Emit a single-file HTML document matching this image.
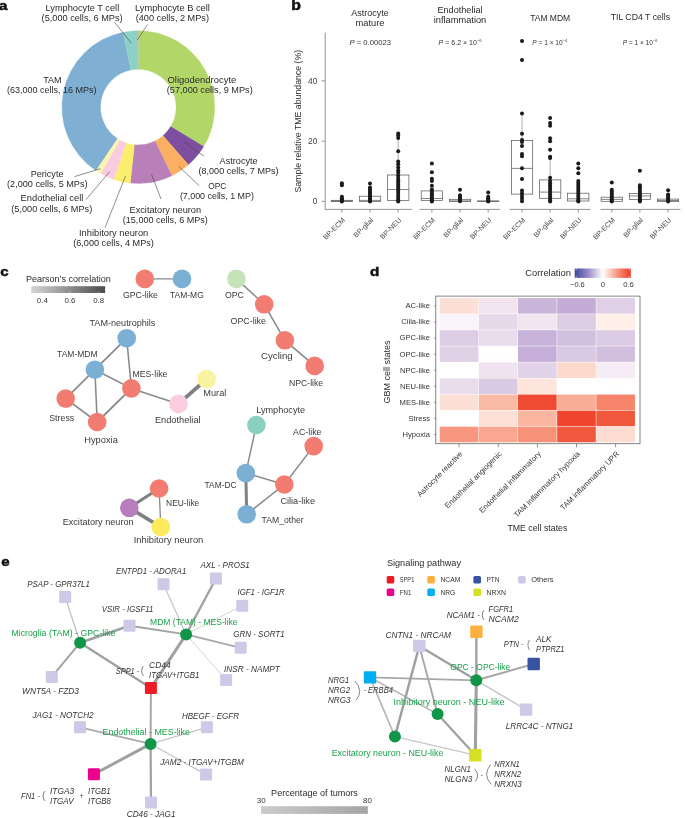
<!DOCTYPE html>
<html lang="en"><head><meta charset="utf-8"><title>Figure</title>
<style>
html,body{margin:0;padding:0;background:#fff;}
svg{display:block;font-family:'Liberation Sans', Arial, Helvetica, sans-serif;fill:#2a2a2a;}
</style></head><body>
<svg width="685" height="818" viewBox="0 0 685 818">
<rect width="685" height="818" fill="#fff"/>
<defs>
<linearGradient id="gPear" x1="0" x2="1" y1="0" y2="0"><stop offset="0" stop-color="#d4d4d4"/><stop offset="1" stop-color="#4c4c4e"/></linearGradient>
<linearGradient id="gCorr" x1="0" x2="1" y1="0" y2="0"><stop offset="0" stop-color="#3c46a2"/><stop offset="0.25" stop-color="#9d8fc9"/><stop offset="0.5" stop-color="#ffffff"/><stop offset="0.75" stop-color="#f69a84"/><stop offset="1" stop-color="#ee3a26"/></linearGradient>
<linearGradient id="gPct" x1="0" x2="1" y1="0" y2="0"><stop offset="0" stop-color="#cbcbcb"/><stop offset="1" stop-color="#a5a5a5"/></linearGradient>
</defs>

<text x="-0.9" y="10.2" font-size="13.2" fill="#111" font-weight="bold" textLength="8.4" lengthAdjust="spacingAndGlyphs" stroke="#111" stroke-width="0.5">a</text>
<text x="291.3" y="10.1" font-size="14.6" fill="#111" font-weight="bold" textLength="9.7" lengthAdjust="spacingAndGlyphs" stroke="#111" stroke-width="0.5">b</text>
<text x="0.3" y="276.2" font-size="13.2" fill="#111" font-weight="bold" textLength="8.4" lengthAdjust="spacingAndGlyphs" stroke="#111" stroke-width="0.5">c</text>
<text x="369.9" y="275.8" font-size="13.6" fill="#111" font-weight="bold" textLength="9.3" lengthAdjust="spacingAndGlyphs" stroke="#111" stroke-width="0.5">d</text>
<text x="1.3" y="565.8" font-size="13.2" fill="#111" font-weight="bold" textLength="8.4" lengthAdjust="spacingAndGlyphs" stroke="#111" stroke-width="0.5">e</text>
<g id="panel-a">
<path d="M138.30 30.70A76.4 76.4 0 0 1 203.72 146.56L170.67 126.62A37.8 37.8 0 0 0 138.30 69.30Z" fill="#b2d668" stroke="#b2d668" stroke-width="0.3"/>
<path d="M203.72 146.56A76.4 76.4 0 0 1 188.42 164.76L163.10 135.63A37.8 37.8 0 0 0 170.67 126.62Z" fill="#7e4f9e" stroke="#7e4f9e" stroke-width="0.3"/>
<path d="M188.42 164.76A76.4 76.4 0 0 1 171.91 175.71L154.93 141.05A37.8 37.8 0 0 0 163.10 135.63Z" fill="#fbb061" stroke="#fbb061" stroke-width="0.3"/>
<path d="M171.91 175.71A76.4 76.4 0 0 1 130.31 183.08L134.35 144.69A37.8 37.8 0 0 0 154.93 141.05Z" fill="#b97fb8" stroke="#b97fb8" stroke-width="0.3"/>
<path d="M130.31 183.08A76.4 76.4 0 0 1 113.68 179.42L126.12 142.88A37.8 37.8 0 0 0 134.35 144.69Z" fill="#fbee6f" stroke="#fbee6f" stroke-width="0.3"/>
<path d="M113.68 179.42A76.4 76.4 0 0 1 100.68 173.60L119.69 140.00A37.8 37.8 0 0 0 126.12 142.88Z" fill="#f9cce1" stroke="#f9cce1" stroke-width="0.3"/>
<path d="M100.68 173.60A76.4 76.4 0 0 1 95.80 170.59L117.27 138.51A37.8 37.8 0 0 0 119.69 140.00Z" fill="#faf4ad" stroke="#faf4ad" stroke-width="0.3"/>
<path d="M95.80 170.59A76.4 76.4 0 0 1 123.07 32.23L130.76 70.06A37.8 37.8 0 0 0 117.27 138.51Z" fill="#7fb0d3" stroke="#7fb0d3" stroke-width="0.3"/>
<path d="M123.07 32.23A76.4 76.4 0 0 1 137.10 30.71L137.71 69.30A37.8 37.8 0 0 0 130.76 70.06Z" fill="#8dd1c6" stroke="#8dd1c6" stroke-width="0.3"/>
<path d="M137.10 30.71A76.4 76.4 0 0 1 138.30 30.70L138.30 69.30A37.8 37.8 0 0 0 137.71 69.30Z" fill="#b9b9b9" stroke="#b9b9b9" stroke-width="0.3"/>
<line x1="114.5" y1="22.2" x2="131.3" y2="43.2" stroke="#444" stroke-width="0.6"/>
<line x1="147.6" y1="24.5" x2="137.4" y2="39.7" stroke="#444" stroke-width="0.6"/>
<line x1="74.3" y1="176.7" x2="100.4" y2="168.7" stroke="#444" stroke-width="0.6"/>
<line x1="86.0" y1="199.6" x2="109.8" y2="171.5" stroke="#444" stroke-width="0.6"/>
<line x1="105.1" y1="227.6" x2="125.4" y2="176.2" stroke="#444" stroke-width="0.6"/>
<line x1="184.0" y1="141.7" x2="203.9" y2="156.1" stroke="#444" stroke-width="0.6"/>
<line x1="178.8" y1="166.5" x2="199.4" y2="185.8" stroke="#444" stroke-width="0.6"/>
<line x1="151.5" y1="174.2" x2="161.0" y2="199.0" stroke="#444" stroke-width="0.6"/>
<text x="45.5" y="10.7" font-size="8.8" textLength="73.7" lengthAdjust="spacingAndGlyphs">Lymphocyte T cell</text>
<text x="41.6" y="20.8" font-size="8.8" textLength="81.0" lengthAdjust="spacingAndGlyphs">(5,000 cells, 6 MPs)</text>
<text x="135.0" y="10.7" font-size="8.8" textLength="74.8" lengthAdjust="spacingAndGlyphs">Lymphocyte B cell</text>
<text x="135.7" y="20.8" font-size="8.8" textLength="73.3" lengthAdjust="spacingAndGlyphs">(400 cells, 2 MPs)</text>
<text x="43.3" y="83.3" font-size="8.8" textLength="18.3" lengthAdjust="spacingAndGlyphs">TAM</text>
<text x="7.1" y="93.2" font-size="8.8" textLength="89.5" lengthAdjust="spacingAndGlyphs">(63,000 cells, 16 MPs)</text>
<text x="167.5" y="83.1" font-size="8.8" textLength="68.8" lengthAdjust="spacingAndGlyphs">Oligodendrocyte</text>
<text x="166.8" y="92.9" font-size="8.8" textLength="85.9" lengthAdjust="spacingAndGlyphs">(57,000 cells, 9 MPs)</text>
<text x="30.7" y="176.7" font-size="8.8" textLength="32.8" lengthAdjust="spacingAndGlyphs">Pericyte</text>
<text x="7.1" y="186.6" font-size="8.8" textLength="80.4" lengthAdjust="spacingAndGlyphs">(2,000 cells, 5 MPs)</text>
<text x="20.6" y="201.3" font-size="8.8" textLength="62.7" lengthAdjust="spacingAndGlyphs">Endothelial cell</text>
<text x="11.3" y="211.6" font-size="8.8" textLength="80.9" lengthAdjust="spacingAndGlyphs">(5,000 cells, 6 MPs)</text>
<text x="79.0" y="236.2" font-size="8.8" textLength="69.3" lengthAdjust="spacingAndGlyphs">Inhibitory neuron</text>
<text x="73.2" y="246.1" font-size="8.8" textLength="80.7" lengthAdjust="spacingAndGlyphs">(6,000 cells, 4 MPs)</text>
<text x="219.6" y="163.8" font-size="8.8" textLength="38.1" lengthAdjust="spacingAndGlyphs">Astrocyte</text>
<text x="198.5" y="173.9" font-size="8.8" textLength="80.0" lengthAdjust="spacingAndGlyphs">(8,000 cells, 7 MPs)</text>
<text x="208.2" y="188.6" font-size="8.8" textLength="18.2" lengthAdjust="spacingAndGlyphs">OPC</text>
<text x="179.9" y="199.0" font-size="8.8" textLength="74.0" lengthAdjust="spacingAndGlyphs">(7,000 cells, 1 MP)</text>
<text x="129.5" y="212.7" font-size="8.8" textLength="71.6" lengthAdjust="spacingAndGlyphs">Excitatory neuron</text>
<text x="122.8" y="222.6" font-size="8.8" textLength="85.0" lengthAdjust="spacingAndGlyphs">(15,000 cells, 6 MPs)</text>
</g>
<g id="panel-b">
<line x1="325.2" y1="32.5" x2="325.2" y2="209.8" stroke="#8a8a8a" stroke-width="0.9"/>
<line x1="321.6" y1="201.4" x2="325.2" y2="201.4" stroke="#8a8a8a" stroke-width="0.9"/>
<text x="317.3" y="204.4" font-size="8.4" text-anchor="end" fill="#444">0</text>
<line x1="321.6" y1="141.1" x2="325.2" y2="141.1" stroke="#8a8a8a" stroke-width="0.9"/>
<text x="317.3" y="144.1" font-size="8.4" text-anchor="end" fill="#444">20</text>
<line x1="321.6" y1="80.8" x2="325.2" y2="80.8" stroke="#8a8a8a" stroke-width="0.9"/>
<text x="317.3" y="83.8" font-size="8.4" text-anchor="end" fill="#444">40</text>
<text x="300.8" y="121.2" font-size="8.6" text-anchor="middle" textLength="142.8" lengthAdjust="spacingAndGlyphs" transform="rotate(-90 300.8 121.2)">Sample relative TME abundance (%)</text>
<text x="370.0" y="16.2" font-size="8.8" text-anchor="middle" textLength="37.5" lengthAdjust="spacingAndGlyphs">Astrocyte</text>
<text x="370.0" y="26.3" font-size="8.8" text-anchor="middle" textLength="29.0" lengthAdjust="spacingAndGlyphs">mature</text>
<text x="460.0" y="12.8" font-size="8.8" text-anchor="middle" textLength="45.0" lengthAdjust="spacingAndGlyphs">Endothelial</text>
<text x="460.0" y="22.9" font-size="8.8" text-anchor="middle" textLength="52.5" lengthAdjust="spacingAndGlyphs">inflammation</text>
<text x="550.2" y="20.6" font-size="8.8" text-anchor="middle" textLength="40.0" lengthAdjust="spacingAndGlyphs">TAM MDM</text>
<text x="640.4" y="19.9" font-size="8.8" text-anchor="middle" textLength="59.4" lengthAdjust="spacingAndGlyphs">TIL CD4 T cells</text>
<text x="349.4" y="44.8" font-size="7.4" fill="#333" textLength="41.6" lengthAdjust="spacingAndGlyphs"><tspan font-style="italic">P</tspan> = 0.00023</text>
<text x="438.6" y="44.8" font-size="7.4" fill="#333" textLength="43.0" lengthAdjust="spacingAndGlyphs"><tspan font-style="italic">P</tspan> = 6.2 × 10<tspan dy="-3.0" font-size="4.4">−6</tspan></text>
<text x="532.3" y="44.5" font-size="7.4" fill="#333" textLength="34.8" lengthAdjust="spacingAndGlyphs"><tspan font-style="italic">P</tspan> = 1 × 10<tspan dy="-3.0" font-size="4.4">−4</tspan></text>
<text x="622.8" y="44.5" font-size="7.4" fill="#333" textLength="34.5" lengthAdjust="spacingAndGlyphs"><tspan font-style="italic">P</tspan> = 1 × 10<tspan dy="-3.0" font-size="4.4">−6</tspan></text>
<line x1="325.2" y1="209.4" x2="412.0" y2="209.4" stroke="#8a8a8a" stroke-width="0.9"/>
<line x1="341.9" y1="209.4" x2="341.9" y2="212.6" stroke="#8a8a8a" stroke-width="0.9"/>
<text x="345.5" y="220.6" font-size="7.1" text-anchor="end" fill="#444" transform="rotate(-45 345.5 220.6)">BP-ECM</text>
<rect x="331.2" y="200.3" width="21.3" height="1.3" fill="none" stroke="#555" stroke-width="0.7"/>
<line x1="331.2" y1="201.0" x2="352.5" y2="201.0" stroke="#555" stroke-width="0.7"/>
<circle cx="341.9" cy="183.2" r="2.0" fill="#1a1a1a"/>
<circle cx="341.9" cy="185.2" r="2.0" fill="#1a1a1a"/>
<circle cx="341.9" cy="196.8" r="2.0" fill="#1a1a1a"/>
<circle cx="341.9" cy="198.2" r="2.0" fill="#1a1a1a"/>
<circle cx="341.9" cy="199.6" r="2.0" fill="#1a1a1a"/>
<circle cx="341.9" cy="200.8" r="2.0" fill="#1a1a1a"/>
<circle cx="341.9" cy="201.4" r="2.0" fill="#1a1a1a"/>
<line x1="370.0" y1="209.4" x2="370.0" y2="212.6" stroke="#8a8a8a" stroke-width="0.9"/>
<text x="373.6" y="220.6" font-size="7.1" text-anchor="end" fill="#444" transform="rotate(-45 373.6 220.6)">BP-glial</text>
<rect x="359.4" y="196.2" width="21.3" height="5.3" fill="none" stroke="#555" stroke-width="0.7"/>
<line x1="359.4" y1="200.4" x2="380.7" y2="200.4" stroke="#555" stroke-width="0.7"/>
<circle cx="370.0" cy="183.6" r="2.0" fill="#1a1a1a"/>
<circle cx="370.0" cy="187.6" r="2.0" fill="#1a1a1a"/>
<circle cx="370.0" cy="189.3" r="2.0" fill="#1a1a1a"/>
<circle cx="370.0" cy="191.0" r="2.0" fill="#1a1a1a"/>
<circle cx="370.0" cy="192.6" r="2.0" fill="#1a1a1a"/>
<circle cx="370.0" cy="194.0" r="2.0" fill="#1a1a1a"/>
<circle cx="370.0" cy="195.4" r="2.0" fill="#1a1a1a"/>
<circle cx="370.0" cy="196.8" r="2.0" fill="#1a1a1a"/>
<circle cx="370.0" cy="198.2" r="2.0" fill="#1a1a1a"/>
<circle cx="370.0" cy="199.6" r="2.0" fill="#1a1a1a"/>
<circle cx="370.0" cy="200.8" r="2.0" fill="#1a1a1a"/>
<circle cx="370.0" cy="201.4" r="2.0" fill="#1a1a1a"/>
<line x1="398.2" y1="209.4" x2="398.2" y2="212.6" stroke="#8a8a8a" stroke-width="0.9"/>
<text x="401.8" y="220.6" font-size="7.1" text-anchor="end" fill="#444" transform="rotate(-45 401.8 220.6)">BP-NEU</text>
<line x1="398.2" y1="133.5" x2="398.2" y2="175.0" stroke="#999" stroke-width="0.8"/>
<rect x="387.6" y="175.0" width="21.3" height="25.5" fill="none" stroke="#555" stroke-width="0.7"/>
<line x1="387.6" y1="189.5" x2="408.8" y2="189.5" stroke="#555" stroke-width="0.7"/>
<circle cx="398.2" cy="133.5" r="2.0" fill="#1a1a1a"/>
<circle cx="398.2" cy="135.4" r="2.0" fill="#1a1a1a"/>
<circle cx="398.2" cy="138.0" r="2.0" fill="#1a1a1a"/>
<circle cx="398.2" cy="151.2" r="2.0" fill="#1a1a1a"/>
<circle cx="398.2" cy="161.5" r="2.0" fill="#1a1a1a"/>
<circle cx="398.2" cy="164.2" r="2.0" fill="#1a1a1a"/>
<circle cx="398.2" cy="167.5" r="2.0" fill="#1a1a1a"/>
<circle cx="398.2" cy="170.5" r="2.0" fill="#1a1a1a"/>
<circle cx="398.2" cy="172.4" r="2.0" fill="#1a1a1a"/>
<circle cx="398.2" cy="175.5" r="2.0" fill="#1a1a1a"/>
<circle cx="398.2" cy="178.0" r="2.0" fill="#1a1a1a"/>
<circle cx="398.2" cy="180.2" r="2.0" fill="#1a1a1a"/>
<circle cx="398.2" cy="182.3" r="2.0" fill="#1a1a1a"/>
<circle cx="398.2" cy="184.4" r="2.0" fill="#1a1a1a"/>
<circle cx="398.2" cy="186.5" r="2.0" fill="#1a1a1a"/>
<circle cx="398.2" cy="188.6" r="2.0" fill="#1a1a1a"/>
<circle cx="398.2" cy="190.7" r="2.0" fill="#1a1a1a"/>
<circle cx="398.2" cy="192.8" r="2.0" fill="#1a1a1a"/>
<circle cx="398.2" cy="194.9" r="2.0" fill="#1a1a1a"/>
<circle cx="398.2" cy="197.0" r="2.0" fill="#1a1a1a"/>
<circle cx="398.2" cy="199.0" r="2.0" fill="#1a1a1a"/>
<circle cx="398.2" cy="200.5" r="2.0" fill="#1a1a1a"/>
<circle cx="398.2" cy="201.4" r="2.0" fill="#1a1a1a"/>
<line x1="419.6" y1="209.4" x2="500.0" y2="209.4" stroke="#8a8a8a" stroke-width="0.9"/>
<line x1="431.9" y1="209.4" x2="431.9" y2="212.6" stroke="#8a8a8a" stroke-width="0.9"/>
<text x="435.5" y="220.6" font-size="7.1" text-anchor="end" fill="#444" transform="rotate(-45 435.5 220.6)">BP-ECM</text>
<rect x="421.2" y="190.9" width="21.3" height="9.6" fill="none" stroke="#555" stroke-width="0.7"/>
<line x1="421.2" y1="198.5" x2="442.5" y2="198.5" stroke="#555" stroke-width="0.7"/>
<circle cx="431.9" cy="163.5" r="2.0" fill="#1a1a1a"/>
<circle cx="431.9" cy="172.3" r="2.0" fill="#1a1a1a"/>
<circle cx="431.9" cy="178.8" r="2.0" fill="#1a1a1a"/>
<circle cx="431.9" cy="181.0" r="2.0" fill="#1a1a1a"/>
<circle cx="431.9" cy="185.8" r="2.0" fill="#1a1a1a"/>
<circle cx="431.9" cy="189.5" r="2.0" fill="#1a1a1a"/>
<circle cx="431.9" cy="191.5" r="2.0" fill="#1a1a1a"/>
<circle cx="431.9" cy="193.4" r="2.0" fill="#1a1a1a"/>
<circle cx="431.9" cy="195.3" r="2.0" fill="#1a1a1a"/>
<circle cx="431.9" cy="197.2" r="2.0" fill="#1a1a1a"/>
<circle cx="431.9" cy="199.0" r="2.0" fill="#1a1a1a"/>
<circle cx="431.9" cy="200.4" r="2.0" fill="#1a1a1a"/>
<circle cx="431.9" cy="201.4" r="2.0" fill="#1a1a1a"/>
<line x1="460.0" y1="209.4" x2="460.0" y2="212.6" stroke="#8a8a8a" stroke-width="0.9"/>
<text x="463.6" y="220.6" font-size="7.1" text-anchor="end" fill="#444" transform="rotate(-45 463.6 220.6)">BP-glial</text>
<rect x="449.4" y="199.3" width="21.3" height="2.2" fill="none" stroke="#555" stroke-width="0.7"/>
<line x1="449.4" y1="200.9" x2="470.7" y2="200.9" stroke="#555" stroke-width="0.7"/>
<circle cx="460.0" cy="189.7" r="2.0" fill="#1a1a1a"/>
<circle cx="460.0" cy="195.2" r="2.0" fill="#1a1a1a"/>
<circle cx="460.0" cy="197.0" r="2.0" fill="#1a1a1a"/>
<circle cx="460.0" cy="198.6" r="2.0" fill="#1a1a1a"/>
<circle cx="460.0" cy="200.0" r="2.0" fill="#1a1a1a"/>
<circle cx="460.0" cy="201.2" r="2.0" fill="#1a1a1a"/>
<line x1="488.2" y1="209.4" x2="488.2" y2="212.6" stroke="#8a8a8a" stroke-width="0.9"/>
<text x="491.8" y="220.6" font-size="7.1" text-anchor="end" fill="#444" transform="rotate(-45 491.8 220.6)">BP-NEU</text>
<rect x="477.6" y="201.0" width="21.3" height="0.5" fill="none" stroke="#555" stroke-width="0.7"/>
<line x1="477.6" y1="201.2" x2="498.8" y2="201.2" stroke="#555" stroke-width="0.7"/>
<circle cx="488.2" cy="192.4" r="2.0" fill="#1a1a1a"/>
<circle cx="488.2" cy="196.8" r="2.0" fill="#1a1a1a"/>
<circle cx="488.2" cy="198.3" r="2.0" fill="#1a1a1a"/>
<circle cx="488.2" cy="199.7" r="2.0" fill="#1a1a1a"/>
<circle cx="488.2" cy="200.8" r="2.0" fill="#1a1a1a"/>
<circle cx="488.2" cy="201.4" r="2.0" fill="#1a1a1a"/>
<line x1="509.7" y1="209.4" x2="590.5" y2="209.4" stroke="#8a8a8a" stroke-width="0.9"/>
<line x1="522.0" y1="209.4" x2="522.0" y2="212.6" stroke="#8a8a8a" stroke-width="0.9"/>
<text x="525.6" y="220.6" font-size="7.1" text-anchor="end" fill="#444" transform="rotate(-45 525.6 220.6)">BP-ECM</text>
<line x1="522.0" y1="113.5" x2="522.0" y2="140.4" stroke="#999" stroke-width="0.8"/>
<rect x="511.4" y="140.4" width="21.3" height="53.7" fill="none" stroke="#555" stroke-width="0.7"/>
<line x1="511.4" y1="168.4" x2="532.6" y2="168.4" stroke="#555" stroke-width="0.7"/>
<circle cx="522.0" cy="41.0" r="2.0" fill="#1a1a1a"/>
<circle cx="522.0" cy="60.0" r="2.0" fill="#1a1a1a"/>
<circle cx="522.0" cy="113.5" r="2.0" fill="#1a1a1a"/>
<circle cx="522.0" cy="133.8" r="2.0" fill="#1a1a1a"/>
<circle cx="522.0" cy="140.0" r="2.0" fill="#1a1a1a"/>
<circle cx="522.0" cy="141.9" r="2.0" fill="#1a1a1a"/>
<circle cx="522.0" cy="145.9" r="2.0" fill="#1a1a1a"/>
<circle cx="522.0" cy="154.0" r="2.0" fill="#1a1a1a"/>
<circle cx="522.0" cy="156.2" r="2.0" fill="#1a1a1a"/>
<circle cx="522.0" cy="168.3" r="2.0" fill="#1a1a1a"/>
<circle cx="522.0" cy="178.9" r="2.0" fill="#1a1a1a"/>
<circle cx="522.0" cy="190.5" r="2.0" fill="#1a1a1a"/>
<circle cx="522.0" cy="193.2" r="2.0" fill="#1a1a1a"/>
<circle cx="522.0" cy="195.9" r="2.0" fill="#1a1a1a"/>
<circle cx="522.0" cy="198.6" r="2.0" fill="#1a1a1a"/>
<circle cx="522.0" cy="201.3" r="2.0" fill="#1a1a1a"/>
<line x1="550.1" y1="209.4" x2="550.1" y2="212.6" stroke="#8a8a8a" stroke-width="0.9"/>
<text x="553.8" y="220.6" font-size="7.1" text-anchor="end" fill="#444" transform="rotate(-45 553.8 220.6)">BP-glial</text>
<line x1="550.1" y1="157.0" x2="550.1" y2="179.9" stroke="#999" stroke-width="0.8"/>
<rect x="539.5" y="179.9" width="21.3" height="18.4" fill="none" stroke="#555" stroke-width="0.7"/>
<line x1="539.5" y1="192.1" x2="560.8" y2="192.1" stroke="#555" stroke-width="0.7"/>
<circle cx="550.1" cy="118.1" r="2.0" fill="#1a1a1a"/>
<circle cx="550.1" cy="123.0" r="2.0" fill="#1a1a1a"/>
<circle cx="550.1" cy="125.7" r="2.0" fill="#1a1a1a"/>
<circle cx="550.1" cy="138.3" r="2.0" fill="#1a1a1a"/>
<circle cx="550.1" cy="141.3" r="2.0" fill="#1a1a1a"/>
<circle cx="550.1" cy="149.7" r="2.0" fill="#1a1a1a"/>
<circle cx="550.1" cy="156.7" r="2.0" fill="#1a1a1a"/>
<circle cx="550.1" cy="158.0" r="2.0" fill="#1a1a1a"/>
<circle cx="550.1" cy="177.8" r="2.0" fill="#1a1a1a"/>
<circle cx="550.1" cy="181.0" r="2.0" fill="#1a1a1a"/>
<circle cx="550.1" cy="183.2" r="2.0" fill="#1a1a1a"/>
<circle cx="550.1" cy="185.4" r="2.0" fill="#1a1a1a"/>
<circle cx="550.1" cy="187.6" r="2.0" fill="#1a1a1a"/>
<circle cx="550.1" cy="189.8" r="2.0" fill="#1a1a1a"/>
<circle cx="550.1" cy="192.0" r="2.0" fill="#1a1a1a"/>
<circle cx="550.1" cy="194.2" r="2.0" fill="#1a1a1a"/>
<circle cx="550.1" cy="196.4" r="2.0" fill="#1a1a1a"/>
<circle cx="550.1" cy="198.6" r="2.0" fill="#1a1a1a"/>
<circle cx="550.1" cy="200.2" r="2.0" fill="#1a1a1a"/>
<circle cx="550.1" cy="201.4" r="2.0" fill="#1a1a1a"/>
<line x1="578.3" y1="209.4" x2="578.3" y2="212.6" stroke="#8a8a8a" stroke-width="0.9"/>
<text x="581.9" y="220.6" font-size="7.1" text-anchor="end" fill="#444" transform="rotate(-45 581.9 220.6)">BP-NEU</text>
<rect x="567.6" y="193.2" width="21.3" height="7.8" fill="none" stroke="#555" stroke-width="0.7"/>
<line x1="567.6" y1="198.8" x2="588.9" y2="198.8" stroke="#555" stroke-width="0.7"/>
<circle cx="578.3" cy="163.5" r="2.0" fill="#1a1a1a"/>
<circle cx="578.3" cy="168.3" r="2.0" fill="#1a1a1a"/>
<circle cx="578.3" cy="173.2" r="2.0" fill="#1a1a1a"/>
<circle cx="578.3" cy="181.0" r="2.0" fill="#1a1a1a"/>
<circle cx="578.3" cy="183.0" r="2.0" fill="#1a1a1a"/>
<circle cx="578.3" cy="185.0" r="2.0" fill="#1a1a1a"/>
<circle cx="578.3" cy="187.0" r="2.0" fill="#1a1a1a"/>
<circle cx="578.3" cy="189.0" r="2.0" fill="#1a1a1a"/>
<circle cx="578.3" cy="191.0" r="2.0" fill="#1a1a1a"/>
<circle cx="578.3" cy="193.0" r="2.0" fill="#1a1a1a"/>
<circle cx="578.3" cy="195.0" r="2.0" fill="#1a1a1a"/>
<circle cx="578.3" cy="197.0" r="2.0" fill="#1a1a1a"/>
<circle cx="578.3" cy="199.0" r="2.0" fill="#1a1a1a"/>
<circle cx="578.3" cy="200.5" r="2.0" fill="#1a1a1a"/>
<circle cx="578.3" cy="201.4" r="2.0" fill="#1a1a1a"/>
<line x1="600.5" y1="209.4" x2="680.4" y2="209.4" stroke="#8a8a8a" stroke-width="0.9"/>
<line x1="611.8" y1="209.4" x2="611.8" y2="212.6" stroke="#8a8a8a" stroke-width="0.9"/>
<text x="615.4" y="220.6" font-size="7.1" text-anchor="end" fill="#444" transform="rotate(-45 615.4 220.6)">BP-ECM</text>
<rect x="601.1" y="197.2" width="21.3" height="4.1" fill="none" stroke="#555" stroke-width="0.7"/>
<line x1="601.1" y1="199.4" x2="622.4" y2="199.4" stroke="#555" stroke-width="0.7"/>
<circle cx="611.8" cy="182.6" r="2.0" fill="#1a1a1a"/>
<circle cx="611.8" cy="189.7" r="2.0" fill="#1a1a1a"/>
<circle cx="611.8" cy="191.6" r="2.0" fill="#1a1a1a"/>
<circle cx="611.8" cy="193.5" r="2.0" fill="#1a1a1a"/>
<circle cx="611.8" cy="195.4" r="2.0" fill="#1a1a1a"/>
<circle cx="611.8" cy="197.3" r="2.0" fill="#1a1a1a"/>
<circle cx="611.8" cy="199.2" r="2.0" fill="#1a1a1a"/>
<circle cx="611.8" cy="200.6" r="2.0" fill="#1a1a1a"/>
<circle cx="611.8" cy="201.4" r="2.0" fill="#1a1a1a"/>
<line x1="639.9" y1="209.4" x2="639.9" y2="212.6" stroke="#8a8a8a" stroke-width="0.9"/>
<text x="643.5" y="220.6" font-size="7.1" text-anchor="end" fill="#444" transform="rotate(-45 643.5 220.6)">BP-glial</text>
<rect x="629.3" y="193.4" width="21.3" height="6.0" fill="none" stroke="#555" stroke-width="0.7"/>
<line x1="629.3" y1="195.9" x2="650.6" y2="195.9" stroke="#555" stroke-width="0.7"/>
<circle cx="639.9" cy="170.8" r="2.0" fill="#1a1a1a"/>
<circle cx="639.9" cy="185.3" r="2.0" fill="#1a1a1a"/>
<circle cx="639.9" cy="187.2" r="2.0" fill="#1a1a1a"/>
<circle cx="639.9" cy="189.1" r="2.0" fill="#1a1a1a"/>
<circle cx="639.9" cy="191.0" r="2.0" fill="#1a1a1a"/>
<circle cx="639.9" cy="192.9" r="2.0" fill="#1a1a1a"/>
<circle cx="639.9" cy="194.8" r="2.0" fill="#1a1a1a"/>
<circle cx="639.9" cy="196.7" r="2.0" fill="#1a1a1a"/>
<circle cx="639.9" cy="198.6" r="2.0" fill="#1a1a1a"/>
<circle cx="639.9" cy="200.2" r="2.0" fill="#1a1a1a"/>
<circle cx="639.9" cy="201.4" r="2.0" fill="#1a1a1a"/>
<line x1="668.1" y1="209.4" x2="668.1" y2="212.6" stroke="#8a8a8a" stroke-width="0.9"/>
<text x="671.7" y="220.6" font-size="7.1" text-anchor="end" fill="#444" transform="rotate(-45 671.7 220.6)">BP-NEU</text>
<rect x="657.4" y="199.1" width="21.3" height="2.4" fill="none" stroke="#555" stroke-width="0.7"/>
<line x1="657.4" y1="200.5" x2="678.7" y2="200.5" stroke="#555" stroke-width="0.7"/>
<circle cx="668.1" cy="190.2" r="2.0" fill="#1a1a1a"/>
<circle cx="668.1" cy="194.5" r="2.0" fill="#1a1a1a"/>
<circle cx="668.1" cy="196.0" r="2.0" fill="#1a1a1a"/>
<circle cx="668.1" cy="197.5" r="2.0" fill="#1a1a1a"/>
<circle cx="668.1" cy="199.0" r="2.0" fill="#1a1a1a"/>
<circle cx="668.1" cy="200.3" r="2.0" fill="#1a1a1a"/>
<circle cx="668.1" cy="201.4" r="2.0" fill="#1a1a1a"/>
</g>
<g id="panel-c">
<text x="25.9" y="281.9" font-size="8.8" textLength="84.9" lengthAdjust="spacingAndGlyphs">Pearson’s correlation</text>
<rect x="31.2" y="286.2" width="73.9" height="6.8" fill="url(#gPear)"/>
<line x1="42.3" y1="291.6" x2="42.3" y2="293.0" stroke="#fff" stroke-width="0.5"/>
<line x1="70.0" y1="291.6" x2="70.0" y2="293.0" stroke="#fff" stroke-width="0.5"/>
<line x1="98.7" y1="291.6" x2="98.7" y2="293.0" stroke="#fff" stroke-width="0.5"/>
<text x="42.3" y="302.5" font-size="7.6" text-anchor="middle" fill="#333" textLength="11.0" lengthAdjust="spacingAndGlyphs">0.4</text>
<text x="70.0" y="302.5" font-size="7.6" text-anchor="middle" fill="#333" textLength="11.0" lengthAdjust="spacingAndGlyphs">0.6</text>
<text x="98.7" y="302.5" font-size="7.6" text-anchor="middle" fill="#333" textLength="11.0" lengthAdjust="spacingAndGlyphs">0.8</text>
<line x1="144.8" y1="278.9" x2="182.0" y2="278.9" stroke="#88898c" stroke-width="1.4300000000000002"/>
<line x1="126.7" y1="338.2" x2="94.9" y2="369.7" stroke="#88898c" stroke-width="1.6900000000000002"/>
<line x1="126.7" y1="338.2" x2="131.4" y2="388.4" stroke="#88898c" stroke-width="1.56"/>
<line x1="94.9" y1="369.7" x2="131.4" y2="388.4" stroke="#88898c" stroke-width="1.56"/>
<line x1="94.9" y1="369.7" x2="65.7" y2="398.6" stroke="#88898c" stroke-width="1.6900000000000002"/>
<line x1="94.9" y1="369.7" x2="97.2" y2="422.0" stroke="#88898c" stroke-width="1.56"/>
<line x1="65.7" y1="398.6" x2="97.2" y2="422.0" stroke="#88898c" stroke-width="1.6900000000000002"/>
<line x1="131.4" y1="388.4" x2="97.2" y2="422.0" stroke="#88898c" stroke-width="1.8199999999999998"/>
<line x1="131.4" y1="388.4" x2="178.5" y2="403.9" stroke="#88898c" stroke-width="1.56"/>
<line x1="178.5" y1="403.9" x2="206.6" y2="379.1" stroke="#7f7f82" stroke-width="3.9"/>
<line x1="236.4" y1="278.9" x2="264.2" y2="304.3" stroke="#88898c" stroke-width="1.56"/>
<line x1="264.2" y1="304.3" x2="284.9" y2="340.3" stroke="#88898c" stroke-width="1.56"/>
<line x1="284.9" y1="340.3" x2="314.7" y2="365.9" stroke="#88898c" stroke-width="1.6900000000000002"/>
<line x1="256.4" y1="425.0" x2="245.8" y2="473.1" stroke="#88898c" stroke-width="1.4300000000000002"/>
<line x1="313.7" y1="446.1" x2="284.3" y2="484.5" stroke="#88898c" stroke-width="1.4300000000000002"/>
<line x1="245.8" y1="473.1" x2="284.3" y2="484.5" stroke="#88898c" stroke-width="1.56"/>
<line x1="245.8" y1="473.1" x2="246.7" y2="514.3" stroke="#808082" stroke-width="3.0"/>
<line x1="284.3" y1="484.5" x2="246.7" y2="514.3" stroke="#88898c" stroke-width="1.56"/>
<line x1="159.1" y1="488.5" x2="129.3" y2="507.8" stroke="#808082" stroke-width="3.1"/>
<line x1="129.3" y1="507.8" x2="160.8" y2="527.0" stroke="#808082" stroke-width="3.7"/>
<line x1="159.1" y1="488.5" x2="160.8" y2="527.0" stroke="#88898c" stroke-width="1.3"/>
<circle cx="144.8" cy="278.9" r="9.3" fill="#f27c71"/>
<circle cx="182.0" cy="278.9" r="9.3" fill="#7bafd4"/>
<circle cx="126.7" cy="338.2" r="9.3" fill="#7bafd4"/>
<circle cx="94.9" cy="369.7" r="9.3" fill="#7bafd4"/>
<circle cx="131.4" cy="388.4" r="9.3" fill="#f27c71"/>
<circle cx="65.7" cy="398.6" r="9.3" fill="#f27c71"/>
<circle cx="97.2" cy="422.0" r="9.3" fill="#f27c71"/>
<circle cx="178.5" cy="403.9" r="9.3" fill="#facde1"/>
<circle cx="206.6" cy="379.1" r="9.3" fill="#faf3a0"/>
<circle cx="236.4" cy="278.9" r="9.3" fill="#c6e2b8"/>
<circle cx="264.2" cy="304.3" r="9.3" fill="#f27c71"/>
<circle cx="284.9" cy="340.3" r="9.3" fill="#f27c71"/>
<circle cx="314.7" cy="365.9" r="9.3" fill="#f27c71"/>
<circle cx="256.4" cy="425.0" r="9.3" fill="#8ad0c0"/>
<circle cx="313.7" cy="446.1" r="9.3" fill="#f27c71"/>
<circle cx="245.8" cy="473.1" r="9.3" fill="#7bafd4"/>
<circle cx="284.3" cy="484.5" r="9.3" fill="#f27c71"/>
<circle cx="246.7" cy="514.3" r="9.3" fill="#7bafd4"/>
<circle cx="159.1" cy="488.5" r="9.3" fill="#f27c71"/>
<circle cx="129.3" cy="507.8" r="9.3" fill="#b87dbd"/>
<circle cx="160.8" cy="527.0" r="9.3" fill="#fbea5e"/>
<text x="122.9" y="298.4" font-size="8.8" fill="#3a3a3a" textLength="35.1" lengthAdjust="spacingAndGlyphs">GPC-like</text>
<text x="170.0" y="298.4" font-size="8.8" fill="#3a3a3a" textLength="33.8" lengthAdjust="spacingAndGlyphs">TAM-MG</text>
<text x="224.9" y="298.4" font-size="8.8" fill="#3a3a3a" textLength="18.9" lengthAdjust="spacingAndGlyphs">OPC</text>
<text x="230.5" y="324.1" font-size="8.8" fill="#3a3a3a" textLength="35.5" lengthAdjust="spacingAndGlyphs">OPC-like</text>
<text x="261.1" y="358.5" font-size="8.8" fill="#3a3a3a" textLength="31.5" lengthAdjust="spacingAndGlyphs">Cycling</text>
<text x="288.9" y="386.3" font-size="8.8" fill="#3a3a3a" textLength="34.3" lengthAdjust="spacingAndGlyphs">NPC-like</text>
<text x="89.5" y="325.8" font-size="8.8" fill="#3a3a3a" textLength="65.9" lengthAdjust="spacingAndGlyphs">TAM-neutrophils</text>
<text x="57.1" y="356.8" font-size="8.8" fill="#3a3a3a" textLength="40.5" lengthAdjust="spacingAndGlyphs">TAM-MDM</text>
<text x="132.4" y="376.6" font-size="8.8" fill="#3a3a3a" textLength="35.0" lengthAdjust="spacingAndGlyphs">MES-like</text>
<text x="203.3" y="395.9" font-size="8.8" fill="#3a3a3a" textLength="23.0" lengthAdjust="spacingAndGlyphs">Mural</text>
<text x="49.2" y="420.9" font-size="8.8" fill="#3a3a3a" textLength="25.1" lengthAdjust="spacingAndGlyphs">Stress</text>
<text x="84.3" y="442.5" font-size="8.8" fill="#3a3a3a" textLength="33.5" lengthAdjust="spacingAndGlyphs">Hypoxia</text>
<text x="154.9" y="422.5" font-size="8.8" fill="#3a3a3a" textLength="45.7" lengthAdjust="spacingAndGlyphs">Endothelial</text>
<text x="256.2" y="413.1" font-size="8.8" fill="#3a3a3a" textLength="48.9" lengthAdjust="spacingAndGlyphs">Lymphocyte</text>
<text x="293.0" y="435.3" font-size="8.8" fill="#3a3a3a" textLength="28.5" lengthAdjust="spacingAndGlyphs">AC-like</text>
<text x="204.6" y="488.1" font-size="8.8" fill="#3a3a3a" textLength="32.0" lengthAdjust="spacingAndGlyphs">TAM-DC</text>
<text x="280.4" y="504.3" font-size="8.8" fill="#3a3a3a" textLength="34.6" lengthAdjust="spacingAndGlyphs">Cilia-like</text>
<text x="261.6" y="523.2" font-size="8.8" fill="#3a3a3a" textLength="42.0" lengthAdjust="spacingAndGlyphs">TAM_other</text>
<text x="166.1" y="506.1" font-size="8.8" fill="#3a3a3a" textLength="33.2" lengthAdjust="spacingAndGlyphs">NEU-like</text>
<text x="62.7" y="525.4" font-size="8.8" fill="#3a3a3a" textLength="70.9" lengthAdjust="spacingAndGlyphs">Excitatory neuron</text>
<text x="133.7" y="543.3" font-size="8.8" fill="#3a3a3a" textLength="69.6" lengthAdjust="spacingAndGlyphs">Inhibitory neuron</text>
</g>
<g id="panel-d">
<text x="525.3" y="275.9" font-size="8.8" textLength="45.6" lengthAdjust="spacingAndGlyphs">Correlation</text>
<rect x="574.7" y="268.5" width="56.1" height="9.4" fill="url(#gCorr)"/>
<line x1="576.2" y1="268.5" x2="576.2" y2="270.2" stroke="#fff" stroke-width="0.6"/>
<line x1="576.2" y1="276.2" x2="576.2" y2="277.9" stroke="#fff" stroke-width="0.6"/>
<line x1="602.8" y1="268.5" x2="602.8" y2="270.2" stroke="#fff" stroke-width="0.6"/>
<line x1="602.8" y1="276.2" x2="602.8" y2="277.9" stroke="#fff" stroke-width="0.6"/>
<line x1="629.2" y1="268.5" x2="629.2" y2="270.2" stroke="#fff" stroke-width="0.6"/>
<line x1="629.2" y1="276.2" x2="629.2" y2="277.9" stroke="#fff" stroke-width="0.6"/>
<text x="577.4" y="286.8" font-size="7.6" text-anchor="middle" fill="#333" textLength="14.7" lengthAdjust="spacingAndGlyphs">−0.6</text>
<text x="602.8" y="286.8" font-size="7.6" text-anchor="middle" fill="#333">0</text>
<text x="628.5" y="286.8" font-size="7.6" text-anchor="middle" fill="#333" textLength="10.7" lengthAdjust="spacingAndGlyphs">0.6</text>
<rect x="439.75" y="298.05" width="38.64" height="15.58" fill="#fde0d5"/>
<rect x="478.89" y="298.05" width="38.64" height="15.58" fill="#f2e4ef"/>
<rect x="518.03" y="298.05" width="38.64" height="15.58" fill="#cab5da"/>
<rect x="557.17" y="298.05" width="38.64" height="15.58" fill="#c3acd6"/>
<rect x="596.31" y="298.05" width="38.64" height="15.58" fill="#e0d0e6"/>
<rect x="439.75" y="314.13" width="38.64" height="15.58" fill="#f8f4f9"/>
<rect x="478.89" y="314.13" width="38.64" height="15.58" fill="#e7d9ea"/>
<rect x="518.03" y="314.13" width="38.64" height="15.58" fill="#f1e6f0"/>
<rect x="557.17" y="314.13" width="38.64" height="15.58" fill="#ddcde4"/>
<rect x="596.31" y="314.13" width="38.64" height="15.58" fill="#feefe9"/>
<rect x="439.75" y="330.21" width="38.64" height="15.58" fill="#dccce4"/>
<rect x="478.89" y="330.21" width="38.64" height="15.58" fill="#e9dcec"/>
<rect x="518.03" y="330.21" width="38.64" height="15.58" fill="#c7b2d9"/>
<rect x="557.17" y="330.21" width="38.64" height="15.58" fill="#d2c0df"/>
<rect x="596.31" y="330.21" width="38.64" height="15.58" fill="#dbcbe4"/>
<rect x="439.75" y="346.29" width="38.64" height="15.58" fill="#e0d0e6"/>
<rect x="478.89" y="346.29" width="38.64" height="15.58" fill="#fffdfe"/>
<rect x="518.03" y="346.29" width="38.64" height="15.58" fill="#c5afd8"/>
<rect x="557.17" y="346.29" width="38.64" height="15.58" fill="#d9c9e3"/>
<rect x="596.31" y="346.29" width="38.64" height="15.58" fill="#d2bfde"/>
<rect x="439.75" y="362.37" width="38.64" height="15.58" fill="#fffefe"/>
<rect x="478.89" y="362.37" width="38.64" height="15.58" fill="#f0e3ef"/>
<rect x="518.03" y="362.37" width="38.64" height="15.58" fill="#e2d3e8"/>
<rect x="557.17" y="362.37" width="38.64" height="15.58" fill="#fdd9cb"/>
<rect x="596.31" y="362.37" width="38.64" height="15.58" fill="#f5ecf5"/>
<rect x="439.75" y="378.45" width="38.64" height="15.58" fill="#e9dcec"/>
<rect x="478.89" y="378.45" width="38.64" height="15.58" fill="#dbcae3"/>
<rect x="518.03" y="378.45" width="38.64" height="15.58" fill="#fee6dd"/>
<rect x="557.17" y="378.45" width="38.64" height="15.58" fill="#ffffff"/>
<rect x="596.31" y="378.45" width="38.64" height="15.58" fill="#fffdfe"/>
<rect x="439.75" y="394.53" width="38.64" height="15.58" fill="#fde0d5"/>
<rect x="478.89" y="394.53" width="38.64" height="15.58" fill="#fab9a5"/>
<rect x="518.03" y="394.53" width="38.64" height="15.58" fill="#ef4b32"/>
<rect x="557.17" y="394.53" width="38.64" height="15.58" fill="#f8ad97"/>
<rect x="596.31" y="394.53" width="38.64" height="15.58" fill="#f5846a"/>
<rect x="439.75" y="410.61" width="38.64" height="15.58" fill="#ffffff"/>
<rect x="478.89" y="410.61" width="38.64" height="15.58" fill="#fde0d6"/>
<rect x="518.03" y="410.61" width="38.64" height="15.58" fill="#fab6a0"/>
<rect x="557.17" y="410.61" width="38.64" height="15.58" fill="#ef452d"/>
<rect x="596.31" y="410.61" width="38.64" height="15.58" fill="#f1593e"/>
<rect x="439.75" y="426.69" width="38.64" height="15.58" fill="#f7977f"/>
<rect x="478.89" y="426.69" width="38.64" height="15.58" fill="#f9a791"/>
<rect x="518.03" y="426.69" width="38.64" height="15.58" fill="#f6927a"/>
<rect x="557.17" y="426.69" width="38.64" height="15.58" fill="#f1593e"/>
<rect x="596.31" y="426.69" width="38.64" height="15.58" fill="#fdddd1"/>
<rect x="435.8" y="296.1" width="204.2" height="147.6" fill="none" stroke="#666" stroke-width="0.8"/>
<line x1="434.0" y1="305.8" x2="435.8" y2="305.8" stroke="#666" stroke-width="0.7"/>
<text x="430.0" y="308.2" font-size="7.6" text-anchor="end" fill="#333">AC-like</text>
<line x1="434.0" y1="321.9" x2="435.8" y2="321.9" stroke="#666" stroke-width="0.7"/>
<text x="430.0" y="324.3" font-size="7.6" text-anchor="end" fill="#333">Cilia-like</text>
<line x1="434.0" y1="338.0" x2="435.8" y2="338.0" stroke="#666" stroke-width="0.7"/>
<text x="430.0" y="340.4" font-size="7.6" text-anchor="end" fill="#333">GPC-like</text>
<line x1="434.0" y1="354.1" x2="435.8" y2="354.1" stroke="#666" stroke-width="0.7"/>
<text x="430.0" y="356.5" font-size="7.6" text-anchor="end" fill="#333">OPC-like</text>
<line x1="434.0" y1="370.2" x2="435.8" y2="370.2" stroke="#666" stroke-width="0.7"/>
<text x="430.0" y="372.6" font-size="7.6" text-anchor="end" fill="#333">NPC-like</text>
<line x1="434.0" y1="386.2" x2="435.8" y2="386.2" stroke="#666" stroke-width="0.7"/>
<text x="430.0" y="388.6" font-size="7.6" text-anchor="end" fill="#333">NEU-like</text>
<line x1="434.0" y1="402.3" x2="435.8" y2="402.3" stroke="#666" stroke-width="0.7"/>
<text x="430.0" y="404.7" font-size="7.6" text-anchor="end" fill="#333">MES-like</text>
<line x1="434.0" y1="418.4" x2="435.8" y2="418.4" stroke="#666" stroke-width="0.7"/>
<text x="430.0" y="420.8" font-size="7.6" text-anchor="end" fill="#333">Stress</text>
<line x1="434.0" y1="434.5" x2="435.8" y2="434.5" stroke="#666" stroke-width="0.7"/>
<text x="430.0" y="436.9" font-size="7.6" text-anchor="end" fill="#333">Hypoxia</text>
<text x="390.0" y="372.1" font-size="8.8" text-anchor="middle" textLength="63.0" lengthAdjust="spacingAndGlyphs" transform="rotate(-90 390.0 372.1)">GBM cell states</text>
<line x1="459.1" y1="443.7" x2="459.1" y2="447.3" stroke="#666" stroke-width="0.7"/>
<text x="463.1" y="454.4" font-size="7.65" text-anchor="end" fill="#333" transform="rotate(-45 463.1 454.4)">Astrocyte reactive</text>
<line x1="498.2" y1="443.7" x2="498.2" y2="447.3" stroke="#666" stroke-width="0.7"/>
<text x="502.2" y="454.4" font-size="7.65" text-anchor="end" fill="#333" transform="rotate(-45 502.2 454.4)">Endothelial angiogenic</text>
<line x1="537.4" y1="443.7" x2="537.4" y2="447.3" stroke="#666" stroke-width="0.7"/>
<text x="541.4" y="454.4" font-size="7.65" text-anchor="end" fill="#333" transform="rotate(-45 541.4 454.4)">Endothelial inflammatory</text>
<line x1="576.5" y1="443.7" x2="576.5" y2="447.3" stroke="#666" stroke-width="0.7"/>
<text x="580.5" y="454.4" font-size="7.65" text-anchor="end" fill="#333" transform="rotate(-45 580.5 454.4)">TAM inflammatory hypoxia</text>
<line x1="615.6" y1="443.7" x2="615.6" y2="447.3" stroke="#666" stroke-width="0.7"/>
<text x="619.6" y="454.4" font-size="7.65" text-anchor="end" fill="#333" transform="rotate(-45 619.6 454.4)">TAM inflammatory UPR</text>
<text x="507.4" y="531.2" font-size="8.8" textLength="60.0" lengthAdjust="spacingAndGlyphs">TME cell states</text>
</g>
<g id="panel-e">
<line x1="80.1" y1="642.7" x2="65.2" y2="596.9" stroke="#bdbdbd" stroke-width="1.2"/>
<line x1="80.1" y1="642.7" x2="51.8" y2="676.9" stroke="#a2a2a2" stroke-width="1.9500000000000002"/>
<line x1="80.1" y1="642.7" x2="129.5" y2="625.7" stroke="#a0a0a0" stroke-width="2.75"/>
<line x1="80.1" y1="642.7" x2="150.9" y2="688.0" stroke="#a0a0a0" stroke-width="2.35"/>
<line x1="186.1" y1="634.4" x2="129.5" y2="625.7" stroke="#a2a2a2" stroke-width="1.9500000000000002"/>
<line x1="186.1" y1="634.4" x2="163.5" y2="584.2" stroke="#c4c4c4" stroke-width="1.2"/>
<line x1="186.1" y1="634.4" x2="215.9" y2="578.6" stroke="#a2a2a2" stroke-width="2.25"/>
<line x1="186.1" y1="634.4" x2="242.2" y2="605.8" stroke="#c8c8c8" stroke-width="0.8"/>
<line x1="186.1" y1="634.4" x2="240.7" y2="647.8" stroke="#a8a8a8" stroke-width="1.8"/>
<line x1="186.1" y1="634.4" x2="226.1" y2="679.9" stroke="#c8c8c8" stroke-width="0.8"/>
<line x1="186.1" y1="634.4" x2="150.9" y2="688.0" stroke="#a0a0a0" stroke-width="3.0500000000000003"/>
<line x1="150.6" y1="743.9" x2="150.9" y2="688.0" stroke="#a6a6a6" stroke-width="1.9500000000000002"/>
<line x1="150.6" y1="743.9" x2="80.0" y2="727.3" stroke="#ababab" stroke-width="1.7"/>
<line x1="150.6" y1="743.9" x2="206.9" y2="727.3" stroke="#c4c4c4" stroke-width="1.2"/>
<line x1="150.6" y1="743.9" x2="206.1" y2="774.6" stroke="#c4c4c4" stroke-width="1.2"/>
<line x1="150.6" y1="743.9" x2="93.9" y2="774.3" stroke="#a0a0a0" stroke-width="2.95"/>
<line x1="150.6" y1="743.9" x2="151.0" y2="802.6" stroke="#a2a2a2" stroke-width="2.25"/>
<rect x="59.2" y="590.9" width="12" height="12" rx="1.2" fill="#cdc9e6"/>
<rect x="45.8" y="670.9" width="12" height="12" rx="1.2" fill="#cdc9e6"/>
<rect x="123.5" y="619.7" width="12" height="12" rx="1.2" fill="#cdc9e6"/>
<rect x="157.5" y="578.2" width="12" height="12" rx="1.2" fill="#cdc9e6"/>
<rect x="209.9" y="572.6" width="12" height="12" rx="1.2" fill="#cdc9e6"/>
<rect x="236.2" y="599.8" width="12" height="12" rx="1.2" fill="#cdc9e6"/>
<rect x="234.7" y="641.8" width="12" height="12" rx="1.2" fill="#cdc9e6"/>
<rect x="220.1" y="673.9" width="12" height="12" rx="1.2" fill="#cdc9e6"/>
<rect x="144.9" y="682.0" width="12" height="12" rx="1.2" fill="#ed1c24"/>
<rect x="74.0" y="721.3" width="12" height="12" rx="1.2" fill="#cdc9e6"/>
<rect x="200.9" y="721.3" width="12" height="12" rx="1.2" fill="#cdc9e6"/>
<rect x="200.1" y="768.6" width="12" height="12" rx="1.2" fill="#cdc9e6"/>
<rect x="87.9" y="768.3" width="12" height="12" rx="1.2" fill="#ec008c"/>
<rect x="145.0" y="796.6" width="12" height="12" rx="1.2" fill="#cdc9e6"/>
<circle cx="80.1" cy="642.7" r="6" fill="#119548"/>
<circle cx="186.1" cy="634.4" r="6" fill="#119548"/>
<circle cx="150.6" cy="743.9" r="6" fill="#119548"/>
<line x1="476.3" y1="680.3" x2="370.0" y2="677.4" stroke="#a8a8a8" stroke-width="1.85"/>
<line x1="476.3" y1="680.3" x2="419.3" y2="646.0" stroke="#a0a0a0" stroke-width="2.35"/>
<line x1="476.3" y1="680.3" x2="476.4" y2="631.8" stroke="#a2a2a2" stroke-width="2.35"/>
<line x1="476.3" y1="680.3" x2="533.7" y2="664.0" stroke="#a6a6a6" stroke-width="1.9500000000000002"/>
<line x1="476.3" y1="680.3" x2="526.1" y2="709.6" stroke="#c6c6c6" stroke-width="1.4"/>
<line x1="476.3" y1="680.3" x2="475.3" y2="755.2" stroke="#a0a0a0" stroke-width="3.0500000000000003"/>
<line x1="437.6" y1="714.1" x2="419.3" y2="646.0" stroke="#a6a6a6" stroke-width="1.85"/>
<line x1="437.6" y1="714.1" x2="370.0" y2="677.4" stroke="#b4b4b4" stroke-width="1.6"/>
<line x1="437.6" y1="714.1" x2="475.3" y2="755.2" stroke="#a2a2a2" stroke-width="2.25"/>
<line x1="394.9" y1="736.6" x2="419.3" y2="646.0" stroke="#a0a0a0" stroke-width="2.45"/>
<line x1="394.9" y1="736.6" x2="370.0" y2="677.4" stroke="#b4b4b4" stroke-width="1.6"/>
<line x1="394.9" y1="736.6" x2="475.3" y2="755.2" stroke="#c8c8c8" stroke-width="1.2"/>
<rect x="470.2" y="625.6" width="12.4" height="12.4" rx="1.2" fill="#fbb040"/>
<rect x="413.1" y="639.8" width="12.4" height="12.4" rx="1.2" fill="#cdc9e6"/>
<rect x="527.5" y="657.8" width="12.4" height="12.4" rx="1.2" fill="#3953a4"/>
<rect x="363.8" y="671.2" width="12.4" height="12.4" rx="1.2" fill="#00aeef"/>
<rect x="519.9" y="703.4" width="12.4" height="12.4" rx="1.2" fill="#cdc9e6"/>
<rect x="469.1" y="749.0" width="12.4" height="12.4" rx="1.2" fill="#d7df23"/>
<circle cx="476.3" cy="680.3" r="6" fill="#119548"/>
<circle cx="437.6" cy="714.1" r="6" fill="#119548"/>
<circle cx="394.9" cy="736.6" r="6" fill="#119548"/>
<text x="27.3" y="586.9" font-size="8.2" fill="#333" font-style="italic" textLength="62.6" lengthAdjust="spacingAndGlyphs">PSAP - GPR37L1</text>
<text x="115.9" y="574.0" font-size="8.2" fill="#333" font-style="italic" textLength="70.4" lengthAdjust="spacingAndGlyphs">ENTPD1 - ADORA1</text>
<text x="200.5" y="567.9" font-size="8.2" fill="#333" font-style="italic" textLength="49.2" lengthAdjust="spacingAndGlyphs">AXL - PROS1</text>
<text x="237.6" y="594.5" font-size="8.2" fill="#333" font-style="italic" textLength="47.1" lengthAdjust="spacingAndGlyphs">IGF1 - IGF1R</text>
<text x="101.7" y="611.8" font-size="8.2" fill="#333" font-style="italic" textLength="51.7" lengthAdjust="spacingAndGlyphs">VSIR - IGSF11</text>
<text x="233.2" y="637.4" font-size="8.2" fill="#333" font-style="italic" textLength="51.5" lengthAdjust="spacingAndGlyphs">GRN - SORT1</text>
<text x="223.9" y="671.8" font-size="8.2" fill="#333" font-style="italic" textLength="55.9" lengthAdjust="spacingAndGlyphs">INSR - NAMPT</text>
<text x="22.1" y="694.1" font-size="8.2" fill="#333" font-style="italic" textLength="56.9" lengthAdjust="spacingAndGlyphs">WNT5A - FZD3</text>
<text x="115.8" y="673.7" font-size="8.2" fill="#333" font-style="italic" textLength="23.4" lengthAdjust="spacingAndGlyphs">SPP1 -</text>
<text transform="translate(140.81 673.94) scale(0.864 1)" font-size="10.96" fill="#777">(</text>
<text x="149.1" y="668.4" font-size="8.2" fill="#333" font-style="italic" textLength="21.5" lengthAdjust="spacingAndGlyphs">CD44</text>
<text x="149.1" y="678.4" font-size="8.2" fill="#333" font-style="italic" textLength="50.2" lengthAdjust="spacingAndGlyphs">ITGAV+ITGB1</text>
<text x="32.5" y="718.2" font-size="8.2" fill="#333" font-style="italic" textLength="61.1" lengthAdjust="spacingAndGlyphs">JAG1 - NOTCH2</text>
<text x="181.9" y="719.0" font-size="8.2" fill="#333" font-style="italic" textLength="57.2" lengthAdjust="spacingAndGlyphs">HBEGF - EGFR</text>
<text x="160.2" y="765.1" font-size="8.2" fill="#333" font-style="italic" textLength="83.6" lengthAdjust="spacingAndGlyphs">JAM2 - ITGAV+ITGBM</text>
<text x="21.1" y="799.0" font-size="8.2" fill="#333" font-style="italic" textLength="18.8" lengthAdjust="spacingAndGlyphs">FN1 -</text>
<text transform="translate(41.92 798.80) scale(0.983 1)" font-size="11.17" fill="#777">(</text>
<text x="50.0" y="793.9" font-size="8.2" fill="#333" font-style="italic" textLength="24.1" lengthAdjust="spacingAndGlyphs">ITGA3</text>
<text x="50.0" y="804.0" font-size="8.2" fill="#333" font-style="italic" textLength="23.6" lengthAdjust="spacingAndGlyphs">ITGAV</text>
<text x="79.8" y="798.8" font-size="8.2" fill="#333" font-style="italic" textLength="3.6" lengthAdjust="spacingAndGlyphs">+</text>
<text x="88.1" y="793.9" font-size="8.2" fill="#333" font-style="italic" textLength="22.5" lengthAdjust="spacingAndGlyphs">ITGB1</text>
<text x="88.1" y="804.0" font-size="8.2" fill="#333" font-style="italic" textLength="22.9" lengthAdjust="spacingAndGlyphs">ITGB8</text>
<text x="126.7" y="817.0" font-size="8.2" fill="#333" font-style="italic" textLength="48.9" lengthAdjust="spacingAndGlyphs">CD46 - JAG1</text>
<text x="11.4" y="635.8" font-size="8.6" fill="#1aa04b" textLength="104.1" lengthAdjust="spacingAndGlyphs">Microglia (TAM) - GPC-like</text>
<text x="150.1" y="625.1" font-size="8.6" fill="#1aa04b" textLength="87.5" lengthAdjust="spacingAndGlyphs">MDM (TAM) - MES-like</text>
<text x="102.5" y="734.5" font-size="8.6" fill="#1aa04b" textLength="87.5" lengthAdjust="spacingAndGlyphs">Endothelial - MES-like</text>
<text x="386.9" y="565.6" font-size="8.8" textLength="74.1" lengthAdjust="spacingAndGlyphs">Signaling pathway</text>
<rect x="386.7" y="576.0" width="7.6" height="7.6" rx="1.5" fill="#ed1c24"/>
<text x="399.8" y="582.1" font-size="7.6" fill="#333" textLength="14.5" lengthAdjust="spacingAndGlyphs">SPP1</text>
<rect x="427.3" y="576.0" width="7.6" height="7.6" rx="1.5" fill="#fbb040"/>
<text x="440.4" y="582.1" font-size="7.6" fill="#333" textLength="20.0" lengthAdjust="spacingAndGlyphs">NCAM</text>
<rect x="473.4" y="576.0" width="7.6" height="7.6" rx="1.5" fill="#3953a4"/>
<text x="486.5" y="582.1" font-size="7.6" fill="#333" textLength="13.0" lengthAdjust="spacingAndGlyphs">PTN</text>
<rect x="518.1" y="576.0" width="7.6" height="7.6" rx="1.5" fill="#cdc9e6"/>
<text x="531.2" y="582.1" font-size="7.6" fill="#333" textLength="22.4" lengthAdjust="spacingAndGlyphs">Others</text>
<rect x="386.7" y="588.5" width="7.6" height="7.6" rx="1.5" fill="#ec008c"/>
<text x="399.8" y="594.6" font-size="7.6" fill="#333" textLength="11.6" lengthAdjust="spacingAndGlyphs">FN1</text>
<rect x="427.3" y="588.5" width="7.6" height="7.6" rx="1.5" fill="#00aeef"/>
<text x="440.4" y="594.6" font-size="7.6" fill="#333" textLength="14.9" lengthAdjust="spacingAndGlyphs">NRG</text>
<rect x="473.4" y="588.5" width="7.6" height="7.6" rx="1.5" fill="#d7df23"/>
<text x="486.5" y="594.6" font-size="7.6" fill="#333" textLength="19.5" lengthAdjust="spacingAndGlyphs">NRXN</text>
<text x="446.7" y="618.0" font-size="8.2" fill="#333" font-style="italic" textLength="33.2" lengthAdjust="spacingAndGlyphs">NCAM1 -</text>
<text transform="translate(481.27 618.23) scale(0.972 1)" font-size="10.53" fill="#777">(</text>
<text x="488.6" y="611.9" font-size="8.2" fill="#333" font-style="italic" textLength="24.6" lengthAdjust="spacingAndGlyphs">FGFR1</text>
<text x="488.6" y="622.1" font-size="8.2" fill="#333" font-style="italic" textLength="30.1" lengthAdjust="spacingAndGlyphs">NCAM2</text>
<text x="385.6" y="638.0" font-size="8.2" fill="#333" font-style="italic" textLength="65.3" lengthAdjust="spacingAndGlyphs">CNTN1 - NRCAM</text>
<text x="503.8" y="647.4" font-size="8.2" fill="#333" font-style="italic" textLength="19.6" lengthAdjust="spacingAndGlyphs">PTN -</text>
<text transform="translate(526.94 647.93) scale(0.864 1)" font-size="10.53" fill="#777">(</text>
<text x="536.1" y="641.5" font-size="8.2" fill="#333" font-style="italic" textLength="15.3" lengthAdjust="spacingAndGlyphs">ALK</text>
<text x="536.1" y="651.7" font-size="8.2" fill="#333" font-style="italic" textLength="28.2" lengthAdjust="spacingAndGlyphs">PTPRZ1</text>
<text x="450.3" y="669.5" font-size="8.6" fill="#1aa04b" textLength="60.0" lengthAdjust="spacingAndGlyphs">OPC - OPC-like</text>
<text x="328.0" y="682.9" font-size="8.2" fill="#333" font-style="italic" textLength="21.2" lengthAdjust="spacingAndGlyphs">NRG1</text>
<text x="328.0" y="692.8" font-size="8.2" fill="#333" font-style="italic" textLength="22.2" lengthAdjust="spacingAndGlyphs">NRG2</text>
<text x="328.0" y="703.0" font-size="8.2" fill="#333" font-style="italic" textLength="22.6" lengthAdjust="spacingAndGlyphs">NRG3</text>
<path d="M354.7 680.9Q364.0 690.4 356.2 700.1" fill="none" stroke="#555" stroke-width="0.7"/>
<text x="363.4" y="692.8" font-size="8.2" fill="#333" font-style="italic" textLength="29.6" lengthAdjust="spacingAndGlyphs">- ERBB4</text>
<text x="393.6" y="705.3" font-size="8.6" fill="#1aa04b" textLength="110.9" lengthAdjust="spacingAndGlyphs">Inhibitory neuron - NEU-like</text>
<text x="331.7" y="755.8" font-size="8.6" fill="#1aa04b" textLength="111.7" lengthAdjust="spacingAndGlyphs">Excitatory neuron - NEU-like</text>
<text x="505.8" y="728.6" font-size="8.2" fill="#333" font-style="italic" textLength="67.5" lengthAdjust="spacingAndGlyphs">LRRC4C - NTNG1</text>
<text x="444.6" y="772.2" font-size="8.2" fill="#333" font-style="italic" textLength="26.3" lengthAdjust="spacingAndGlyphs">NLGN1</text>
<text x="444.6" y="782.4" font-size="8.2" fill="#333" font-style="italic" textLength="27.7" lengthAdjust="spacingAndGlyphs">NLGN3</text>
<path d="M474.5 769.0Q480.5 775.1 475.3 781.4" fill="none" stroke="#555" stroke-width="0.7"/>
<text x="480.6" y="777.6" font-size="8.2" fill="#333" font-style="italic" textLength="2.4" lengthAdjust="spacingAndGlyphs">-</text>
<path d="M490.6 764.6Q482.4 774.5 491.0 784.3" fill="none" stroke="#555" stroke-width="0.7"/>
<text x="494.2" y="766.8" font-size="8.2" fill="#333" font-style="italic" textLength="25.6" lengthAdjust="spacingAndGlyphs">NRXN1</text>
<text x="494.2" y="777.0" font-size="8.2" fill="#333" font-style="italic" textLength="27.0" lengthAdjust="spacingAndGlyphs">NRXN2</text>
<text x="494.2" y="787.2" font-size="8.2" fill="#333" font-style="italic" textLength="27.5" lengthAdjust="spacingAndGlyphs">NRXN3</text>
<text x="271.1" y="795.5" font-size="8.8" textLength="86.8" lengthAdjust="spacingAndGlyphs">Percentage of tumors</text>
<text x="256.8" y="802.7" font-size="7.6" fill="#333" textLength="8.9" lengthAdjust="spacingAndGlyphs">30</text>
<text x="363.1" y="802.7" font-size="7.6" fill="#333" textLength="8.9" lengthAdjust="spacingAndGlyphs">80</text>
<rect x="261.0" y="806.2" width="106.8" height="7.7" fill="url(#gPct)"/>
</g>
</svg></body></html>
